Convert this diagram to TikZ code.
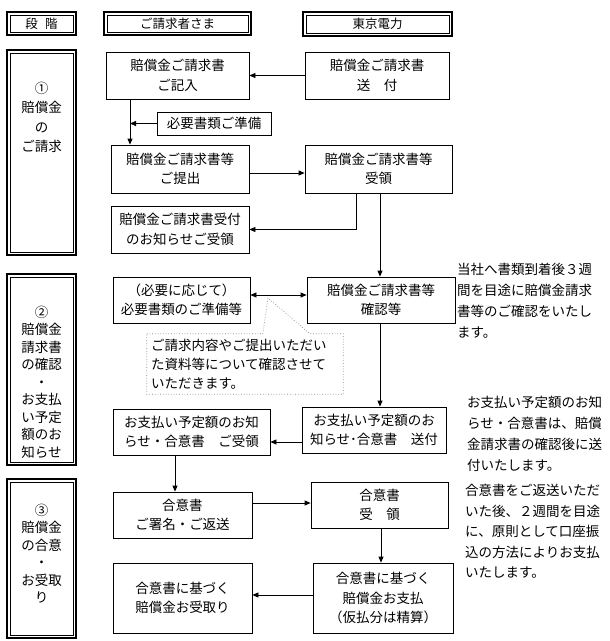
\documentclass[tikz,border=0pt]{standalone}
\usepackage{fontspec}
\setmainfont{Noto Sans CJK JP}
\usetikzlibrary{arrows.meta,calc}
\newcommand\jpbox{\fontsize{13.5}{19.5}\selectfont}
\newcommand\jphead{\fontsize{12.5}{15}\selectfont}
\newcommand\jpnote{\fontsize{13.5}{21}\selectfont}
\tikzset{
  box/.style={draw, line width=0.8pt, inner sep=0pt, align=center, font=\jpbox},
  dbox/.style={draw, line width=1.6pt, inner sep=0pt, align=center, font=\jphead,
    path picture={\draw[line width=0.7pt]
      ([shift={(3pt,-3pt)}]path picture bounding box.north west) rectangle
      ([shift={(-3pt,3pt)}]path picture bounding box.south east);}},
  arr/.style={line width=0.8pt, -{Triangle[length=6pt,width=5pt]}},
  darr/.style={line width=0.8pt, {Triangle[length=6pt,width=5pt]}-{Triangle[length=6pt,width=5pt]}},
  conn/.style={line width=0.8pt},
  stg/.style={align=center, inner sep=0pt},
  note/.style={align=left, inner sep=0pt, anchor=north west, font=\jpnote},
}
\begin{document}
\begin{tikzpicture}[x=1pt,y=-1pt]
\useasboundingbox (0,0) rectangle (610,641);
% headers
\node[dbox, minimum width=69pt, minimum height=23pt] (h1) at (41.5,23.5) {段\hspace{0.6em}階};
\node[dbox, minimum width=147pt, minimum height=23pt] (h2) at (177.5,23.5) {ご請求者さま};
\node[dbox, minimum width=149pt, minimum height=24pt] (h3) at (377.5,24) {東京電力};
% stage boxes
\node[dbox, minimum width=69pt, minimum height=205pt] (s1) at (41.5,152.5) {};
\node[dbox, minimum width=69pt, minimum height=191pt] (s2) at (41.5,369.5) {};
\node[dbox, minimum width=69pt, minimum height=159pt] (s3) at (41.5,558.5) {};
\node[stg, font=\fontsize{13.5}{19.5}\selectfont] (s1t) at (41.5,117.5) {①\\賠償金\\の\\ご請求};
\node[stg, font=\fontsize{13.5}{17.5}\selectfont] (s2t) at (41.5,382) {②\\賠償金\\請求書\\の確認\\・\\お支払\\い予定\\額のお\\知らせ};
\node[stg, font=\fontsize{13.5}{17.5}\selectfont] (s3t) at (41.5,553.5) {③\\賠償金\\の合意\\・\\お受取\\り};
% main boxes
\node[box, minimum width=143pt, minimum height=47pt] (kinyu) at (177.5,75.5) {賠償金ご請求書\\ご記入};
\node[box, minimum width=144pt, minimum height=47pt] (sofu1) at (377,75.5) {賠償金ご請求書\\送\hspace{1em}付};
\node[box, minimum width=114pt, minimum height=23pt] (junbi) at (214,123.5) {必要書類ご準備};
\node[box, minimum width=138pt, minimum height=48pt] (teishutsu) at (180,169) {賠償金ご請求書等\\ご提出};
\node[box, minimum width=147pt, minimum height=48pt] (juryo) at (378.5,169) {賠償金ご請求書等\\受領};
\node[box, minimum width=138pt, minimum height=47pt] (uketsuke) at (180,229.5) {賠償金ご請求書受付\\のお知らせご受領};
\node[box, minimum width=137pt, minimum height=46pt] (hitsuyo) at (181.5,300) {（必要に応じて）\\必要書類のご準備等};
\node[box, minimum width=148pt, minimum height=46pt] (kakunin) at (381,300) {賠償金ご請求書等\\確認等};
\node[box, minimum width=157pt, minimum height=46pt] (gojuryo) at (191.5,432) {お支払い予定額のお知\\らせ・合意書\hspace{1em}ご受領};
\node[box, minimum width=144pt, minimum height=46pt] (sofu2) at (374,430) {お支払い予定額のお\\知らせ･合意書\hspace{1em}送付};
\node[box, minimum width=139pt, minimum height=46pt] (shomei) at (182.5,515) {合意書\\ご署名・ご返送};
\node[box, minimum width=137pt, minimum height=46pt] (juryo3) at (379.5,505) {合意書\\受\hspace{1em}領};
\node[box, minimum width=139pt, minimum height=70pt] (uketori) at (182.5,598) {合意書に基づく\\賠償金お受取り};
\node[box, minimum width=140pt, minimum height=70pt] (shiharai) at (383,598) {合意書に基づく\\賠償金お支払\\（仮払分は精算）};
% callout
\node[align=left, inner sep=0pt, text width=188pt, minimum height=60pt, font=\fontsize{13.5}{19}\selectfont] (callout) at (245,364) {ご請求内容やご提出いただい\\た資料等について確認させて\\いただきます。};
\coordinate (tip) at (268,298);
\draw[gray, dotted, line width=0.7pt]
  ([xshift=-4pt]callout.north west) -- ([xshift=112pt]callout.north west) -- (tip)
  -- ([xshift=159pt]callout.north west) -- ([xshift=4pt]callout.north east)
  -- ([xshift=4pt]callout.south east) -- ([xshift=-4pt]callout.south west) -- cycle;
% notes
\node[note] (n1) at (457,263) {当社へ書類到着後３週\\間を目途に賠償金請求\\書等のご確認をいたし\\ます。};
\node[note] (n2) at (467,396) {お支払い予定額のお知\\らせ・合意書は、賠償\\金請求書の確認後に送\\付いたします。};
\node[note, font=\fontsize{13.5}{20.5}\selectfont] (n3) at (465,484) {合意書をご返送いただ\\いた後、２週間を目途\\に、原則として口座振\\込の方法によりお支払\\いたします。};
% column coordinates
\coordinate (xa) at (130,0);
\coordinate (xb) at (356,0);
\coordinate (xc) at (380,0);
\coordinate (xd) at (175,0);
\coordinate (xe) at (381,0);
% connectors
\draw[arr] (sofu1.west) -- (kinyu.east);
\draw[arr] (kinyu.south -| xa) -- (teishutsu.north -| xa);
\draw[arr] (junbi.west) -- (junbi.west -| xa);
\draw[arr] ([yshift=-4pt]teishutsu.east) -- ([yshift=-4pt]teishutsu.east -| juryo.west);
\draw[arr] (juryo.south -| xb) |- (uketsuke.east);
\draw[arr] (juryo.south -| xc) -- (kakunin.north -| xc);
\draw[darr] ([yshift=5pt]hitsuyo.east) -- ([yshift=5pt]hitsuyo.east -| kakunin.west);
\draw[arr] (kakunin.south -| xc) -- (sofu2.north -| xc);
\draw[arr] ([yshift=-12pt]sofu2.west) -- ([yshift=-12pt]sofu2.west -| gojuryo.east);
\draw[arr] (gojuryo.south -| xd) -- (shomei.north -| xd);
\draw[arr] ([yshift=12pt]shomei.east) -- ([yshift=12pt]shomei.east -| juryo3.west);
\draw[arr] (juryo3.south -| xe) -- (shiharai.north -| xe);
\draw[arr] ([yshift=3pt]shiharai.west) -- ([yshift=3pt]shiharai.west -| uketori.east);
\end{tikzpicture}
\end{document}
